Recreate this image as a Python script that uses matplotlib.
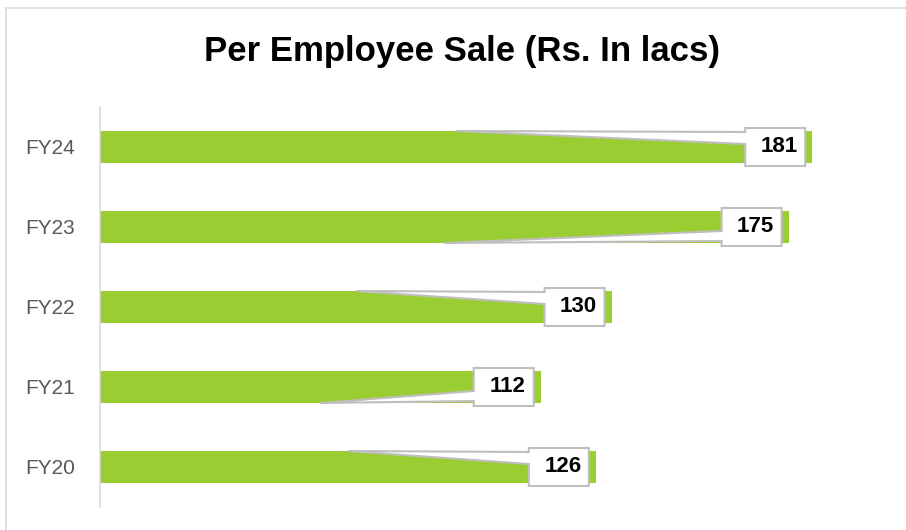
import matplotlib
matplotlib.use("Agg")
import matplotlib.pyplot as plt
from matplotlib.patches import Polygon, Rectangle

categories = ["FY20", "FY21", "FY22", "FY23", "FY24"]
values = [126, 112, 130, 175, 181]
tip_side = ["top", "bottom", "top", "bottom", "top"]

W, H = 906, 530
fig = plt.figure(figsize=(W / 100, H / 100), dpi=100)
fig.patch.set_facecolor("white")

# outer chart border (partially visible)
fig.add_artist(Rectangle((6 / W, -0.1), 1.2, (H - 8) / H + 0.1, transform=fig.transFigure,
                         fill=False, edgecolor="#D9D9D9", linewidth=1.2))

ax = fig.add_axes([100 / W, 23 / H, 787 / W, 400 / H])
ax.set_xlim(0, 200)
ax.set_ylim(-0.5, 4.5)

ypos = list(range(len(categories)))
ax.barh(ypos, values, height=0.4, color="#9ACD32", zorder=2)

ax.set_yticks(ypos)
ax.set_yticklabels(categories, fontsize=15, color="#595959", family="Liberation Sans")
ax.tick_params(axis="y", length=0, pad=18)
ax.set_xticks([])
for s in ["top", "right", "bottom"]:
    ax.spines[s].set_visible(False)
ax.spines["left"].set_color("#D9D9D9")
ax.spines["left"].set_linewidth(1.2)

px = 200 / 787.0  # data units per pixel (x)
py = 5 / 400.0    # data units per pixel (y)
for y, v, side in zip(ypos, values, tip_side):
    R = v - 7 * px
    L = R - 60 * px
    T = y + 19 * py
    B = y - 19 * py
    xt = v / 2.0
    if side == "top":
        yt = y + 0.2
        pts = [(L, T), (R, T), (R, B), (L, B), (L, T - 16 * py), (xt, yt), (L, T - 4 * py)]
    else:
        yt = y - 0.2
        pts = [(L, T), (R, T), (R, B), (L, B), (L, B + 5 * py), (xt, yt), (L, B + 15 * py)]
    ax.add_patch(Polygon(pts, closed=True, facecolor="white", edgecolor="#BFBFBF",
                         linewidth=1.5, zorder=3, joinstyle="miter"))
    ax.text((L + R) / 2 + 1, y, f"{v}", ha="center", va="center", fontsize=16,
            fontweight="bold", color="black", zorder=4, family="Liberation Sans")

fig.text(462 / W, 1 - 52 / H, "Per Employee Sale (Rs. In lacs)", ha="center", va="center",
         fontsize=25, fontweight="bold", color="black", family="Liberation Sans")

fig.savefig("out.png", dpi=100, facecolor="white")
